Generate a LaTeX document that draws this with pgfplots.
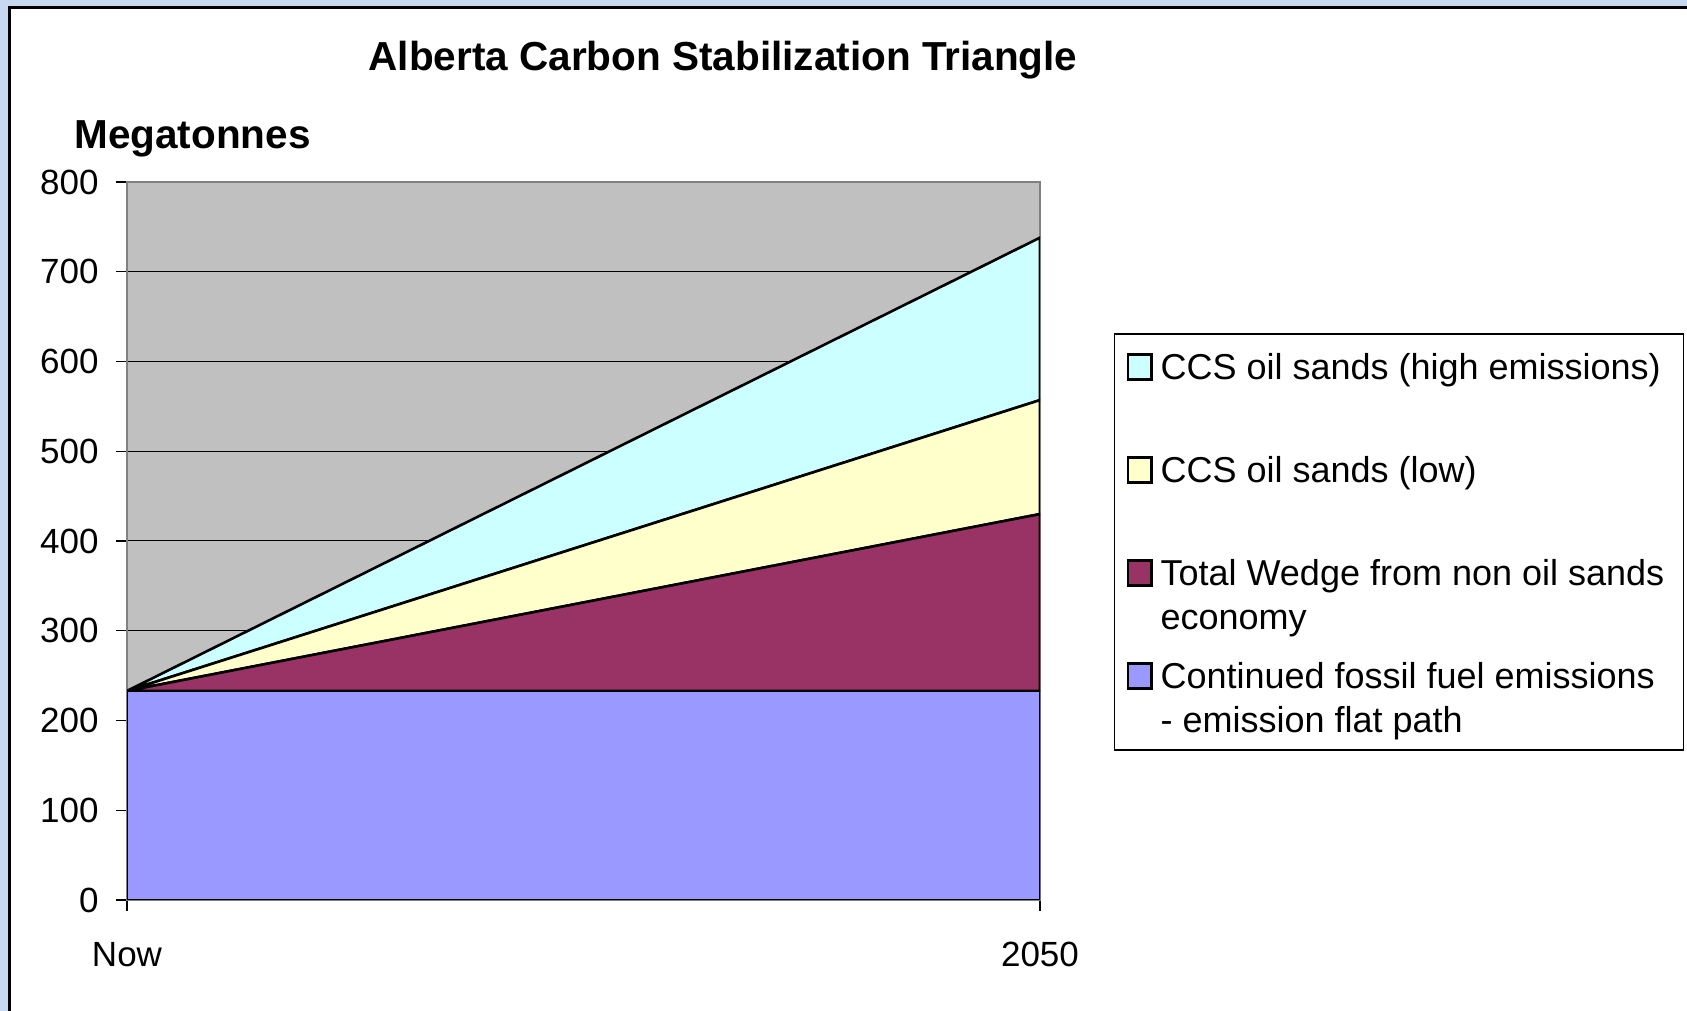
\documentclass[border=0pt]{standalone}
\usepackage{fontspec}
\setmainfont{Liberation Sans}
\usepackage{pgfplots}
\pgfplotsset{compat=1.18}
\definecolor{bgblue}{RGB}{198,217,241}
\definecolor{plotgray}{RGB}{192,192,192}
\definecolor{axgray}{RGB}{128,128,128}
\definecolor{fossil}{RGB}{153,153,255}
\definecolor{wedge}{RGB}{153,51,102}
\definecolor{lowc}{RGB}{255,255,204}
\definecolor{highc}{RGB}{204,255,255}
\newcommand\lent[3]{\vtop to #1{\hbox to 255pt{\rule{0pt}{22.75pt}#2\hfil}\hbox{\strut #3}\vss}}

\begin{document}
\begin{tikzpicture}
\useasboundingbox (0,0) rectangle (843.5pt,505.5pt);
\fill[bgblue] (0,0) rectangle (843.5pt,505.5pt);
\filldraw[fill=white, draw=black, line width=1.5pt] (4.5pt,-20pt) rectangle (870pt,501.75pt);
\node[anchor=base, inner sep=0pt, font=\fontsize{20.25}{24}\selectfont\bfseries] at (361.5pt,470.25pt) {Alberta Carbon Stabilization Triangle};
\node[anchor=base west, inner sep=0pt, font=\fontsize{20.25}{24}\selectfont\bfseries] at (37pt,431pt) {Megatonnes};
\begin{axis}[
  at={(63.5pt,55.5pt)}, anchor=south west,
  scale only axis, width=456.5pt, height=359pt,
  xmin=0, xmax=1, ymin=0, ymax=800,
  xtick={0,1}, xticklabels={Now,2050},
  ytick={0,100,...,800},
  stack plots=y,
  axis background/.style={fill=plotgray},
  ymajorgrids, major grid style={black, line width=0.5pt},
  axis line style={axgray, line width=1pt},
  tick style={black, line width=0.6pt},
  tick align=outside, xtick pos=bottom, ytick pos=left,
  major tick length=5.5pt,
  /pgf/number format/assume math mode=true,
  ticklabel style={font=\fontsize{17.5}{21}\selectfont, inner sep=0pt},
  xticklabel style={anchor=base, yshift=-28pt},
  yticklabel style={anchor=east, xshift=-8.5pt},
  legend style={at={(rel axis cs:1.0806,0.789)}, anchor=north west, draw=black, line width=0.6pt,
    inner xsep=6.25pt, inner ysep=0pt, font=\fontsize{18}{22}\selectfont,
    column sep=4pt, row sep=0pt, cells={anchor=base west},
    nodes={inner sep=0pt, text depth=}},
  legend image code/.code={\draw[#1, draw=black, line width=1.2pt] (0pt,0pt) rectangle (11.75pt,12.5pt);},
  reverse legend,
]
\addplot[fill=fossil, draw=black, line width=1.3pt] coordinates {(0,233) (1,233)} \closedcycle;
\addlegendentry{\lent{53.5pt}{Continued fossil fuel emissions}{- emission flat path}}
\addplot[fill=wedge, draw=black, line width=1.3pt] coordinates {(0,0) (1,197)} \closedcycle;
\addlegendentry{\lent{51.5pt}{Total Wedge from non oil sands}{economy}}
\addplot[fill=lowc, draw=black, line width=1.3pt] coordinates {(0,0) (1,127)} \closedcycle;
\addlegendentry{\lent{51.5pt}{CCS oil sands (low)}{}}
\addplot[fill=highc, draw=black, line width=1.3pt] coordinates {(0,0) (1,181)} \closedcycle;
\addlegendentry{\lent{51.5pt}{CCS oil sands (high emissions)}{}}
\end{axis}
\end{tikzpicture}
\end{document}
